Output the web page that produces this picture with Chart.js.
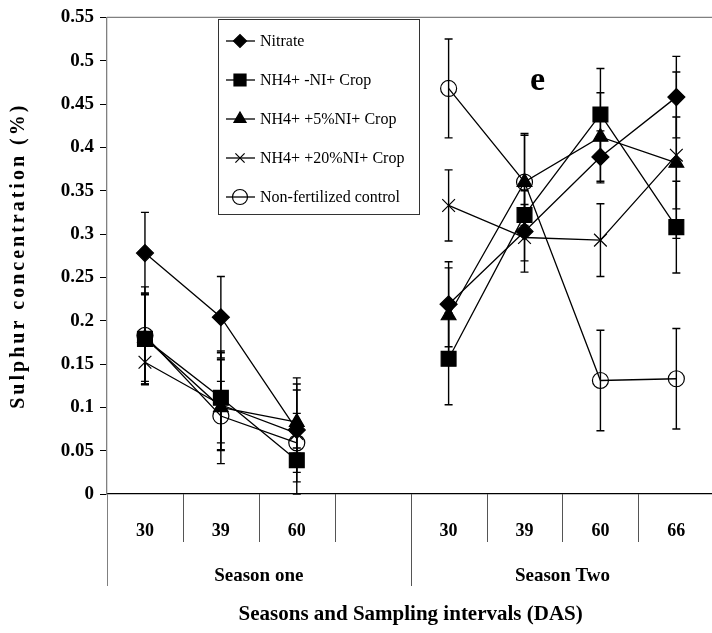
<!DOCTYPE html>
<html>
<head>
<meta charset="utf-8">
<title>Sulphur concentration</title>
<script src="https://cdn.jsdelivr.net/npm/chart.js@4.4.0/dist/chart.umd.min.js"></script>
<style>
  html, body { margin: 0; padding: 0; background: #fff; overflow: hidden; }
  #wrap { width: 726px; height: 633px; }
</style>
</head>
<body>
<div id="wrap"><canvas id="chart" width="726" height="633"></canvas></div>
<script>
// sampling days per slot; the blank slot separates the two seasons
const sampling = ['30', '39', '60', '', '30', '39', '60', '66'];
const seasonNames = ['Season one', 'Season Two'];
const seasonSlots = [[0, 3], [4, 7]];
const yTicks = [0, 0.05, 0.1, 0.15, 0.2, 0.25, 0.3, 0.35, 0.4, 0.45, 0.5, 0.55];

const seriesNames = ['Nitrate', 'NH4+ -NI+ Crop', 'NH4+ +5%NI+ Crop', 'NH4+ +20%NI+ Crop', 'Non-fertilized control'];

const nitrate    = [0.278, 0.204, 0.074, null, 0.219, 0.303, 0.389, 0.458];
const nitrateErr = [0.047, 0.047, 0.060, null, 0.049, 0.047, 0.030, 0.047];
const nh4NoNI    = [0.179, 0.111, 0.039, null, 0.156, 0.322, 0.438, 0.308];
const nh4NoNIErr = [0.053, 0.052, 0.014, null, 0.053, 0.012, 0.053, 0.053];
const nh4NI5     = [0.180, 0.100, 0.083, null, 0.206, 0.360, 0.412, 0.382];
const nh4NI5Err  = [0.050, 0.065, 0.044, null, 0.055, 0.054, 0.051, 0.053];
const nh4NI20    = [0.152, 0.103, 0.070, null, 0.333, 0.296, 0.293, 0.391];
const nh4NI20Err = [0.025, 0.052, 0.023, null, 0.041, 0.027, 0.042, 0.096];
const control    = [0.183, 0.090, 0.059, null, 0.468, 0.360, 0.131, 0.133];
const controlErr = [0.056, 0.040, 0.061, null, 0.057, 0.056, 0.058, 0.058];

const SERIF = "'Liberation Serif', 'Times New Roman', serif";
Chart.defaults.font.family = SERIF;
Chart.defaults.color = '#000';

function series(label, data, err, style, radius, fill, order) {
  return {
    label: label,
    data: data,
    errors: err,
    order: order,
    borderColor: '#000',
    borderWidth: 1.3,
    pointStyle: style,
    pointRadius: radius,
    pointHoverRadius: radius,
    pointBackgroundColor: fill,
    pointBorderColor: '#000',
    pointBorderWidth: 1.2,
    spanGaps: false,
    tension: 0,
    fill: false,
  };
}

// later series are painted on top
const datasets = [
  series(seriesNames[0], nitrate, nitrateErr, 'rectRot', 8.5, '#000', 4),
  series(seriesNames[1], nh4NoNI, nh4NoNIErr, 'rect', 10.5, '#000', 3),
  series(seriesNames[2], nh4NI5, nh4NI5Err, 'triangle', 8.5, '#000', 2),
  series(seriesNames[3], nh4NI20, nh4NI20Err, 'crossRot', 9, '#000', 1),
  series(seriesNames[4], control, controlErr, 'circle', 8, 'rgba(0,0,0,0)', 0),
];

// vertical error bars with short caps, drawn under the markers
const errorBars = {
  id: 'errorBars',
  beforeDatasetsDraw(chart) {
    const ctx = chart.ctx;
    const y = chart.scales.y;
    ctx.save();
    ctx.strokeStyle = '#000';
    ctx.lineWidth = 1.4;
    chart.data.datasets.forEach((ds, di) => {
      const meta = chart.getDatasetMeta(di);
      ds.data.forEach((v, i) => {
        const e = ds.errors[i];
        if (v == null || e == null) return;
        const x = meta.data[i].x;
        const top = y.getPixelForValue(v + e);
        const bot = y.getPixelForValue(Math.max(v - e, 0));
        ctx.beginPath();
        ctx.moveTo(x, top); ctx.lineTo(x, bot);
        ctx.moveTo(x - 4, top); ctx.lineTo(x + 4, top);
        ctx.moveTo(x - 4, bot); ctx.lineTo(x + 4, bot);
        ctx.stroke();
      });
    });
    ctx.restore();
  }
};

// frame, slot dividers, season names, y title, panel letter and legend box
const decorations = {
  id: 'decorations',
  afterDraw(chart) {
    const ctx = chart.ctx;
    const area = chart.chartArea;
    const xs = chart.scales.x;
    const slot = xs.width / sampling.length;
    ctx.save();

    // top frame line
    ctx.strokeStyle = '#808080';
    ctx.lineWidth = 1.3;
    ctx.beginPath();
    ctx.moveTo(area.left, area.top);
    ctx.lineTo(area.right, area.top);
    ctx.stroke();

    // dividers under the axis
    for (let i = 0; i <= sampling.length; i++) {
      const x = Math.round(xs.left + i * slot) + 0.5;
      const isSeasonEdge = i === 0 || i === 4 || i === sampling.length;
      ctx.strokeStyle = i === 0 ? '#808080' : '#555';
      ctx.lineWidth = 1;
      ctx.beginPath();
      ctx.moveTo(x, area.bottom);
      ctx.lineTo(x, area.bottom + (isSeasonEdge ? 92 : 48));
      ctx.stroke();
    }

    // season names
    ctx.fillStyle = '#000';
    ctx.font = 'bold 19px ' + SERIF;
    ctx.textAlign = 'center';
    ctx.textBaseline = 'middle';
    seasonSlots.forEach((s, k) => {
      const cx = xs.left + (s[0] + s[1] + 1) / 2 * slot;
      ctx.fillText(seasonNames[k], cx, area.bottom + 82);
    });

    // y axis title, letter spaced
    ctx.save();
    ctx.translate(19, (area.top + area.bottom) / 2);
    ctx.rotate(-Math.PI / 2);
    ctx.font = 'bold 20px ' + SERIF;
    if ('letterSpacing' in ctx) ctx.letterSpacing = '3px';
    ctx.fillText('Sulphur concentration (%)', 0, 0);
    ctx.restore();

    // panel letter
    ctx.font = 'bold 34px ' + SERIF;
    ctx.fillText('e', xs.getPixelForValue(5) + 13, area.top + 64);

    // legend
    const bx = 218, by = 19, bw = 201, bh = 195;
    ctx.strokeStyle = '#333';
    ctx.lineWidth = 1;
    ctx.strokeRect(bx + 0.5, by + 0.5, bw, bh);
    const legendRadius = [6.5, 8.5, 7, 6.5, 7.5];
    ctx.font = '16px ' + SERIF;
    ctx.textAlign = 'left';
    chart.data.datasets.forEach((ds, i) => {
      const ly = by + 22 + i * 39;
      ctx.strokeStyle = '#000';
      ctx.lineWidth = 1.3;
      ctx.beginPath();
      ctx.moveTo(bx + 8, ly);
      ctx.lineTo(bx + 37, ly);
      ctx.stroke();
      ctx.fillStyle = ds.pointBackgroundColor;
      ctx.lineWidth = 1.2;
      Chart.helpers.drawPoint(ctx, {
        pointStyle: ds.pointStyle, rotation: 0, radius: legendRadius[i], borderWidth: 1.2
      }, bx + 22, ly);
      ctx.fillStyle = '#000';
      ctx.fillText(ds.label, bx + 42, ly + 1);
    });

    ctx.restore();
  }
};

new Chart(document.getElementById('chart'), {
  type: 'line',
  data: { labels: sampling, datasets: datasets },
  options: {
    responsive: false,
    animation: false,
    layout: { padding: { top: 17, right: 1, left: 0, bottom: 0 } },
    plugins: {
      legend: { display: false },
      tooltip: { enabled: false },
    },
    scales: {
      x: {
        type: 'category',
        offset: true,
        grid: { display: false, drawTicks: false, tickLength: 0 },
        border: { display: true, color: '#000', width: 1.3 },
        ticks: {
          padding: 27,
          autoSkip: false,
          maxRotation: 0,
          font: { size: 18, weight: 'bold' },
        },
        title: {
          display: true,
          text: 'Seasons and Sampling intervals (DAS)',
          font: { size: 21, weight: 'bold' },
          padding: { top: 0, bottom: 6 },
        },
        afterFit(scale) { scale.height = 139; },
      },
      y: {
        min: 0,
        max: 0.55,
        afterBuildTicks(scale) { scale.ticks = yTicks.map(v => ({ value: v })); },
        grid: { drawOnChartArea: false, drawTicks: true, tickLength: 7, color: '#000' },
        border: { display: true, color: '#808080', width: 1.3 },
        ticks: {
          padding: 6,
          font: { size: 19, weight: 'bold' },
          callback: v => String(+(+v).toFixed(2)),
        },
        afterFit(scale) { scale.width = 107; },
      },
    },
  },
  plugins: [errorBars, decorations],
});
</script>
</body>
</html>
